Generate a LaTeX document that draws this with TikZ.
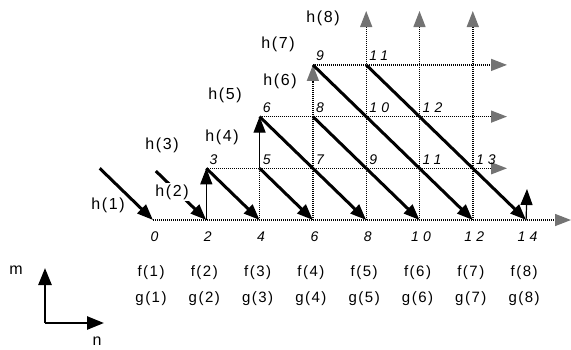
\documentclass[tikz,border=0pt]{standalone}
\usepackage{fontspec}
\setmainfont{Liberation Sans}
\newfontfamily\spaced[LetterSpace=10]{Liberation Sans}
\newfontfamily\spacednum[LetterSpace=30]{Liberation Sans}
\usetikzlibrary{arrows.meta}
\begin{document}
\begin{tikzpicture}[x=1pt,y=-1pt,
  every node/.style={inner sep=0pt},
  gridline/.style={line width=1.4pt,dash pattern=on 1pt off 1pt,black},
  thinline/.style={line width=1.2pt},
  diag/.style={line width=3pt,-{Triangle[length=16pt,width=12pt]}},
  blk/.style={-{Triangle[length=16pt,width=12pt]}},
  gry/.style={-{Triangle[length=16pt,width=12pt,color=black!55,fill=black!55]}},
  hlab/.style={font=\spaced\fontsize{16}{18}\selectfont, fill=white, inner sep=1.5pt},
  ptlab/.style={font=\spacednum\itshape\fontsize{14}{16}\selectfont, anchor=base west, xshift=3pt, yshift=4pt},
  nlab/.style={font=\spacednum\itshape\fontsize{14}{16}\selectfont, xshift=1.5pt},
  fglab/.style={font=\spaced\fontsize{15}{17}\selectfont},
  axlab/.style={font=\fontsize{16}{18}\selectfont},
  axis/.style={line width=2.6pt,-{Triangle[length=17pt,width=13pt]}}
]
\useasboundingbox (0,0) rectangle (571,349);
% grid coordinates
\foreach \n in {-2,0,2,...,14}{
  \foreach \r in {0,1,2,3}{
    \coordinate (p\n_\r) at ({153+26.65*\n},{220-51.7*\r});
  }
}
\foreach \n in {8,10,12}{\coordinate (t\n) at ({153+26.65*\n},11);}
\coordinate (e0) at (571,220);
\coordinate (e1) at (507,{220-51.7});
\coordinate (e2) at (507,{220-2*51.7});
\coordinate (e3) at (507,{220-3*51.7});
\coordinate (u14) at (527,189);
% dotted grid
\draw[gridline,gry] (p0_0) -- (e0);
\draw[gridline,gry] (p2_1) -- (e1);
\draw[gridline,gry] (p4_2) -- (e2);
\draw[gridline,gry] (p6_3) -- (e3);
\draw[gridline] (p4_0) -- (p4_1);
\draw[gridline] (p6_0) -- (p6_2);
\draw[gridline,gry] (p6_2) -- (p6_3);
\foreach \n in {8,10,12}{\draw[gridline,gry] (p\n_0) -- (t\n);}
% solid vertical arrows
\draw[thinline,blk] (p2_0) -- (p2_1);
\draw[thinline,blk] (p4_1) -- (p4_2);
\draw[thinline,blk] (p14_0) -- (u14);
% diagonal arrows
\draw[diag] (p-2_1) -- (p0_0);
\draw[diag,shorten <=4pt] (p0_1) -- (p2_0);
\draw[diag] (p2_1) -- (p4_0);
\draw[diag] (p4_1) -- (p6_0);
\draw[diag] (p4_2) -- (p8_0);
\draw[diag] (p6_2) -- (p10_0);
\draw[diag] (p6_3) -- (p12_0);
\draw[diag] (p8_3) -- (p14_0);
% point labels
\node[ptlab] (l3) at (p2_1) {3};
\node[ptlab] (l5) at (p4_1) {5};
\node[ptlab] (l7) at (p6_1) {7};
\node[ptlab] (l9a) at (p8_1) {9};
\node[ptlab] (l11a) at (p10_1) {11};
\node[ptlab] (l13) at (p12_1) {13};
\node[ptlab] (l6) at (p4_2) {6};
\node[ptlab] (l8) at (p6_2) {8};
\node[ptlab] (l10) at (p8_2) {10};
\node[ptlab] (l12) at (p10_2) {12};
\node[ptlab] (l9b) at (p6_3) {9};
\node[ptlab] (l11b) at (p8_3) {11};
% axis numbers
\foreach \n in {0,2,...,14}{\node[nlab] (b\n) at ([yshift=-17pt]p\n_0) {\n};}
% h labels
\node[hlab] (h1) at (108,205) {h(1)};
\node[hlab] (h2) at (172,192) {h(2)};
\node[hlab] (h3) at (162,145) {h(3)};
\node[hlab] (h4) at (222,137) {h(4)};
\node[hlab] (h5) at (225,95) {h(5)};
\node[hlab] (h6) at (280,81) {h(6)};
\node[hlab] (h7) at (278,44) {h(7)};
\node[hlab] (h8) at (323,18) {h(8)};
% f and g labels
\foreach \k [evaluate=\k as \xx using {153+26.65*2*(\k-1)-2}] in {1,...,8}{
  \node[fglab] (f\k) at (\xx,273) {f(\k)};
  \node[fglab] (g\k) at (\xx,299) {g(\k)};
}
% m-n axes
\coordinate (ax0) at (45,323);
\coordinate (axm) at (45,268);
\coordinate (axn) at (104,323);
\draw[axis] (ax0) -- (axm);
\draw[axis] (ax0) -- (axn);
\node[axlab] (mlab) at (16,270) {m};
\node[axlab] (nlab) at (97,341) {n};
\end{tikzpicture}
\end{document}
